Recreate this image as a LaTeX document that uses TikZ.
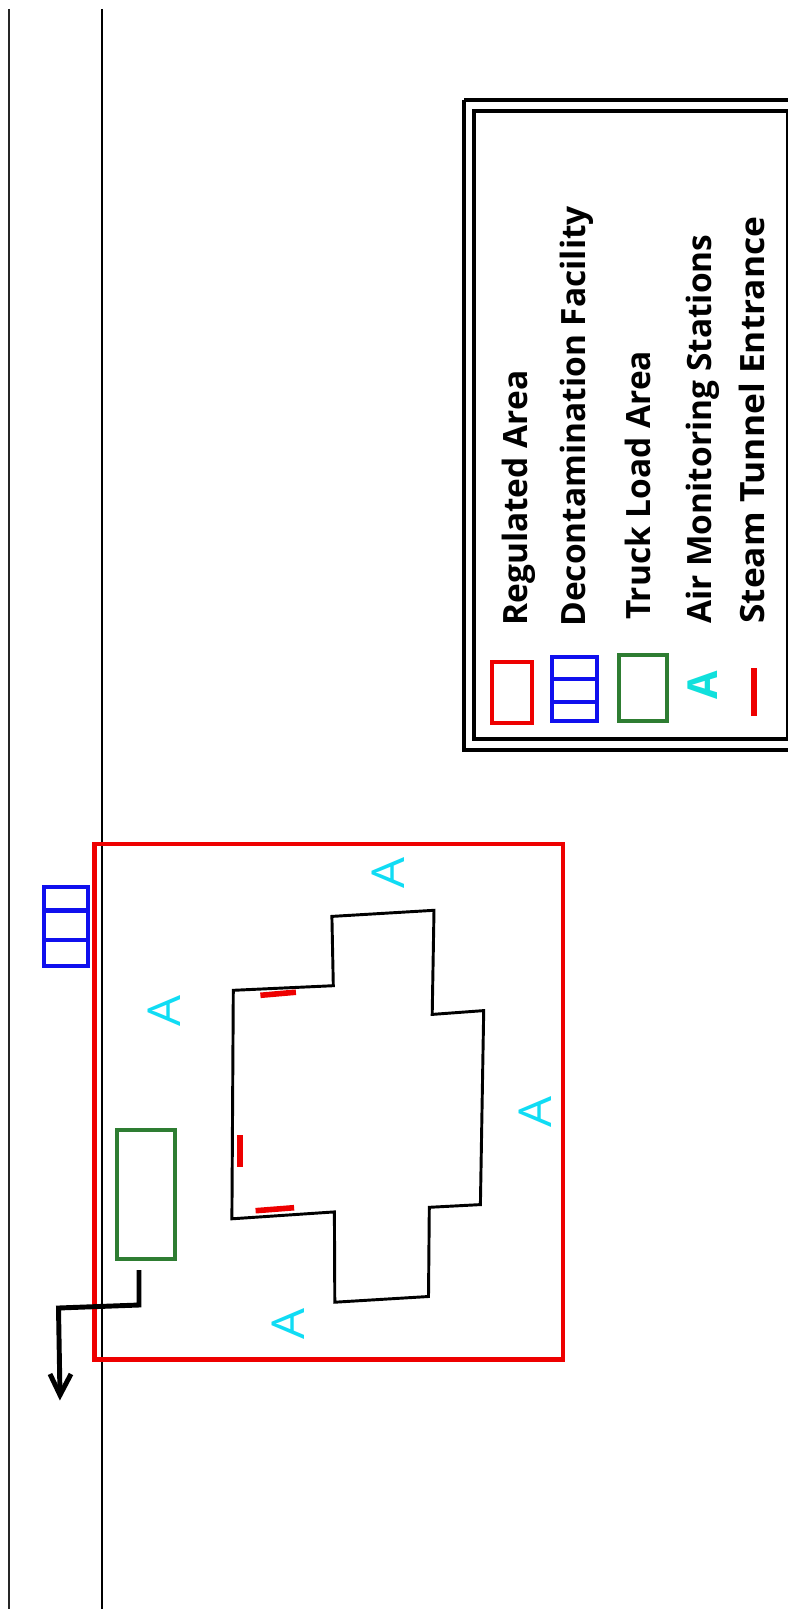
\documentclass[tikz,border=0pt]{standalone}
\usepackage{fontspec}
\setmainfont{Open Sans}
\definecolor{regred}{HTML}{EE0000}
\definecolor{decblue}{HTML}{1010EE}
\definecolor{truckgreen}{HTML}{2E7D32}
\definecolor{aircyan}{HTML}{10DCF4}
\definecolor{keycyan}{HTML}{10E0DC}
\tikzset{
  x=0.75pt,y=-0.75pt,
  road/.style={black!85,line width=1.5pt},
  regbox/.style={draw=regred,line width=3.3pt},
  decbox/.style={draw=decblue,line width=3pt},
  truckbox/.style={draw=truckgreen,line width=3pt},
  building/.style={draw=black,line width=2.2pt,line join=miter},
  tunnel/.style={draw=regred,line width=4.2pt},
  route/.style={draw=black,line width=3.7pt},
  airmark/.style={text=aircyan,font=\fontsize{34}{34}\selectfont,rotate=90,inner sep=0pt},
  legendtext/.style={font=\bfseries\fontsize{25.1}{25.1}\selectfont,rotate=90,anchor=base west,inner sep=0pt},
}
\begin{document}
\begin{tikzpicture}
\useasboundingbox (0,0) rectangle (788,1609);
\fill[white] (0,0) rectangle (788,1609);
\draw[road] (8.7,9) -- (8.7,1609);
\draw[road,black] (101.7,9) -- (101.7,1609);
% regulated area
\draw[regbox] (94.4,843.7) rectangle (563,1359.6);
% decon facility
\draw[decbox] (44.4,887) rectangle (87.8,966);
\draw[decbox,line width=3.4pt] (44.4,910.5) -- (87.8,910.5);
\draw[decbox,line width=3.4pt] (44.4,940) -- (87.8,940);
% truck
\draw[truckbox] (117.4,1130) rectangle (175,1259);
% route
\coordinate (r0) at (139,1270);
\coordinate (r1) at (139,1305);
\coordinate (r2) at (58.5,1308);
\coordinate (r3) at (60,1395);
\coordinate (h1) at (50,1374);
\coordinate (h2) at (71,1374);
\draw[route,line join=miter] (r0) -- (r1) -- (r2) -- (r3);
\draw[route,line join=miter] (h1) -- (r3) -- (h2);
% building
\draw[building] (233.3,990.3) -- (333.3,985.7) -- (331.9,916.4) -- (434,910.3) -- (432.2,1014.4) -- (483.7,1010.6) -- (480.4,1204.6) -- (429.3,1207.3) -- (428.5,1296.5) -- (334.8,1302.2) -- (334.4,1211.9) -- (231.9,1218.8) -- cycle;
% tunnels
\draw[tunnel] (260.4,995.3) -- (295.9,992.2);
\draw[tunnel] (255.6,1210.7) -- (294.1,1207.7);
\draw[tunnel] (240,1135.3) -- (240,1167.1);
% air
\node[airmark] (a1) at (388.5,873.2) {\scalebox{1.08}[1]{A}};
\node[airmark] (a2) at (164,1011) {\scalebox{1.08}[1]{A}};
\node[airmark] (a3) at (535,1112) {\scalebox{1.08}[1]{A}};
\node[airmark] (a4) at (288,1324) {\scalebox{1.08}[1]{A}};
% legend
\draw[draw=black,line width=3.2pt] (464,100) -- (792,100) (464,100) -- (464,750) -- (792,750);
\draw[draw=black,line width=2.6pt] (792,111) -- (474,111) -- (474,739) -- (792,739);
\draw[draw=black,line width=1.5pt] (786.5,111) -- (786.5,739);
\draw[draw=regred,line width=3pt] (491.7,661.5) rectangle (532,723);
\draw[decbox] (551.7,657) rectangle (597,721);
\draw[decbox] (551.7,679) -- (597,679);
\draw[decbox] (551.7,702) -- (597,702);
\draw[truckbox] (619,655) rectangle (666.7,721);
\node[airmark,text=keycyan,font=\bfseries\fontsize{31}{31}\selectfont] (ka) at (703,685) {A};
\draw[tunnel,line width=5pt] (754,668) -- (754,716);
\node[legendtext] (t1) at (527,626) {Regulated Area};
\node[legendtext] (t2) at (585,627) {Decontamination Facility};
\node[legendtext] (t3) at (650,620) {Truck Load Area};
\node[legendtext] (t4) at (711,624) {Air Monitoring Stations};
\node[legendtext] (t5) at (764,624) {\scalebox{1.055}[1]{Steam Tunnel Entrance}};
\end{tikzpicture}
\end{document}
